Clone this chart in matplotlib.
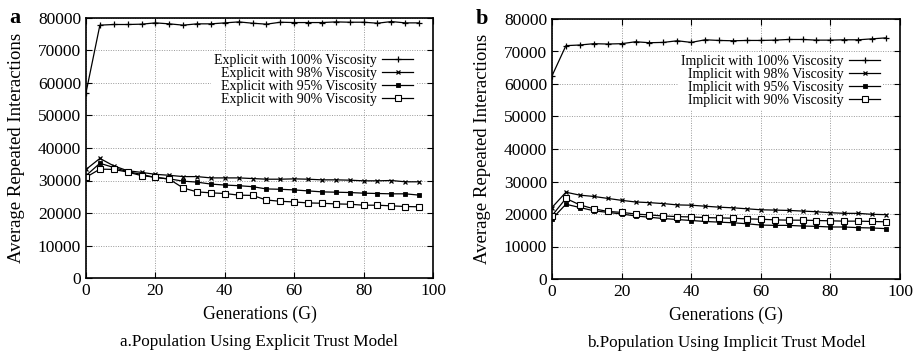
import numpy as np
import matplotlib.pyplot as plt

plt.rcParams['font.family'] = ['Liberation Serif', 'DejaVu Serif']

gens = list(range(0, 100, 4))

# panel a: explicit trust model
exp_100 = [57000, 77800, 78000, 78000, 78100, 78500, 78200, 77800, 78200, 78200,
           78500, 78800, 78400, 78100, 78700, 78600, 78600, 78600, 78800, 78700,
           78700, 78400, 78900, 78500, 78500]
exp_98 = [33400, 36800, 34500, 33000, 32500, 31900, 31600, 31200, 31200, 30800,
          30800, 30800, 30600, 30400, 30400, 30500, 30400, 30200, 30200, 30100,
          29900, 29900, 30000, 29600, 29600]
exp_95 = [31500, 35300, 34000, 32700, 31900, 30900, 30500, 29800, 29500, 28900,
          28600, 28400, 28100, 27400, 27300, 27100, 26800, 26500, 26400, 26300,
          26100, 26000, 25900, 25900, 25500]
exp_90 = [31000, 33500, 33400, 32600, 31500, 31000, 30400, 27700, 26500, 26200,
          26000, 25500, 25400, 24000, 23600, 23400, 23100, 23000, 22800, 22700,
          22400, 22400, 22200, 22000, 21900]

# panel b: implicit trust model
imp_100 = [62500, 71800, 72000, 72400, 72300, 72400, 73000, 72700, 72800, 73300,
           72800, 73600, 73400, 73300, 73400, 73400, 73500, 73700, 73700, 73500,
           73500, 73600, 73600, 73900, 74200]
imp_98 = [22000, 26700, 25800, 25400, 24800, 24200, 23700, 23500, 23200, 22800,
          22700, 22400, 22100, 21900, 21600, 21300, 21200, 21100, 20900, 20700,
          20400, 20200, 20200, 19900, 19800]
imp_95 = [18500, 23000, 22000, 21000, 20500, 20000, 19400, 19000, 18600, 18300,
          18000, 17700, 17500, 17300, 17000, 16600, 16500, 16500, 16300, 16200,
          16000, 16000, 15800, 15700, 15500]
imp_90 = [19500, 24800, 22800, 21600, 20800, 20500, 20000, 19700, 19400, 19200,
          19100, 18900, 18800, 18700, 18500, 18400, 18200, 18100, 18100, 18000,
          17900, 17800, 17800, 17700, 17600]

viscosity = ['100%', '98%', '95%', '90%']
styles = [dict(marker='+', ms=5, mew=0.9),
          dict(marker='x', ms=3.5, mew=0.9),
          dict(marker='s', ms=2.8, mew=0.6, mfc='black'),
          dict(marker='s', ms=3.8, mew=0.8, mfc='white')]

fig = plt.figure(figsize=(9.18, 3.54), dpi=100)
W, H = 918, 354
ax_a = fig.add_axes([86 / W, 1 - 278 / H, 347 / W, 260 / H])
ax_b = fig.add_axes([552 / W, 1 - 279 / H, 348 / W, 260 / H])

panels = [(ax_a, 'Explicit', [exp_100, exp_98, exp_95, exp_90], 'a',
           'a.Population Using Explicit Trust Model'),
          (ax_b, 'Implicit', [imp_100, imp_98, imp_95, imp_90], 'b',
           'b.Population Using Implicit Trust Model')]

for ax, kind, series, letter, caption in panels:
    for vals, v, st in zip(series, viscosity, styles):
        ax.plot(gens, vals, color='black', lw=0.9,
                label=f'{kind} with {v} Viscosity', **st)
    ax.set_xlim(0, 100)
    ax.set_ylim(0, 80000)
    ax.set_xticks(range(0, 101, 20))
    ax.set_yticks(range(0, 80001, 10000))
    ax.grid(True, color='#999999', ls=(0, (1, 1.5)), lw=0.7)
    ax.tick_params(direction='in', top=True, right=True, labelsize=12.5, length=4)
    for s in ax.spines.values():
        s.set_linewidth(1.2)
    ax.set_xlabel('Generations (G)', fontsize=12.7, labelpad=5)
    ax.set_ylabel('Average Repeated Interactions', fontsize=13.5, labelpad=9)
    leg = ax.legend(loc='upper right', bbox_to_anchor=(0.97, 0.90), markerfirst=False,
                    fontsize=10, frameon=True, fancybox=False, edgecolor='none',
                    facecolor='white', framealpha=1, handlelength=2.2,
                    labelspacing=0.0, borderpad=0.2, handletextpad=0.4)
    ax.text(-0.22, 1.0, letter, transform=ax.transAxes, fontsize=16,
            fontweight='bold', ha='left', va='center')
    ax.text(0.5, -0.245, caption, transform=ax.transAxes, fontsize=12.3,
            ha='center', va='center')

fig.savefig('out.png', dpi=100)
